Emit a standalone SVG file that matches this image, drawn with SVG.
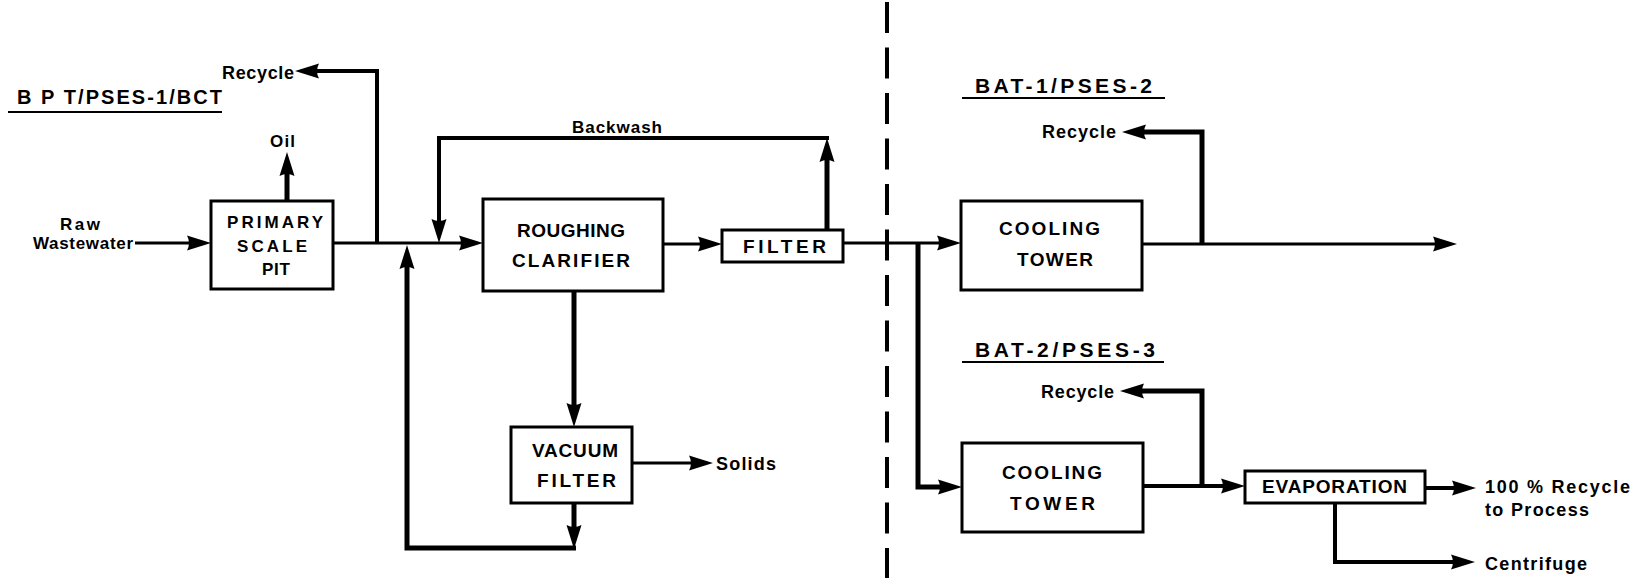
<svg xmlns="http://www.w3.org/2000/svg" width="1644" height="578" viewBox="0 0 1644 578">
<style>
  .box { fill: #fff; stroke: #000; stroke-width: 3; }
  .t { font-family: "Liberation Sans", Arial, sans-serif; font-weight: bold; fill: #000; }
  .bt { font-size: 19px; }
  .pt { font-size: 17px; }
  .lb { font-size: 18px; }
  .sl { font-size: 17px; }
  .hd { font-size: 21px; }
  .c { fill: none; stroke: #000; stroke-linejoin: miter; }
  .thin { stroke-width: 3; }
  .mid { stroke-width: 4; }
  .thick { stroke-width: 5; }
  .ul { stroke: #000; stroke-width: 2; }
</style>
<defs>
  <marker id="ah" markerUnits="userSpaceOnUse" markerWidth="28" markerHeight="18" viewBox="-2 -9 28 18" refX="12" refY="0" orient="auto">
    <path d="M0,-7.5 Q4,0 0,7.5 L24,0 Z" fill="#000"/>
  </marker>
</defs>
<rect width="1644" height="578" fill="#fff"/>

<g id="connectors">
  <path class="c thin" d="M135,243 H199" marker-end="url(#ah)"/>
  <path class="c thin" d="M333,243 H471" marker-end="url(#ah)"/>
  <path class="c mid" d="M377,243 V71 H307" marker-end="url(#ah)"/>
  <path class="c thick" d="M287,201 V164" marker-end="url(#ah)"/>
  <path class="c thick" d="M827,230 V150" marker-end="url(#ah)"/>
  <path class="c mid" d="M829,138 H439 V231" marker-end="url(#ah)"/>
  <path class="c thin" d="M663,244 H710" marker-end="url(#ah)"/>
  <path class="c thin" d="M843,243 H949" marker-end="url(#ah)"/>
  <path class="c thick" d="M918,243 V487 H950" marker-end="url(#ah)"/>
  <path class="c thin" d="M1142,244 H1445" marker-end="url(#ah)"/>
  <path class="c thick" d="M1202,244 V132 H1134" marker-end="url(#ah)"/>
  <path class="c mid" d="M1143,486 H1233" marker-end="url(#ah)"/>
  <path class="c thick" d="M1202,486 V391 H1132" marker-end="url(#ah)"/>
  <path class="c mid" d="M1425,488 H1464" marker-end="url(#ah)"/>
  <path class="c mid" d="M1335,503 V562 H1463" marker-end="url(#ah)"/>
  <path class="c thick" d="M574,291 V415" marker-end="url(#ah)"/>
  <path class="c thin" d="M632,463 H701" marker-end="url(#ah)"/>
  <path class="c thick" d="M574,503 V537" marker-end="url(#ah)"/>
  <path class="c thick" d="M576,548 H407 V257" marker-end="url(#ah)"/>
  <line x1="887" y1="2" x2="887" y2="578" stroke="#000" stroke-width="4" stroke-dasharray="31 14.5"/>
</g>

<g id="labels">
  <text class="t lb" x="222" y="79" textLength="72" lengthAdjust="spacing">Recycle</text>
  <text class="t hd" x="17" y="104" textLength="205" lengthAdjust="spacing" style="font-size:20px">B P T/PSES-1/BCT</text>
  <line class="ul" x1="8" y1="112" x2="222" y2="112"/>
  <text class="t sl" x="270" y="147" textLength="25" lengthAdjust="spacing">Oil</text>
  <text class="t sl" x="60" y="230" textLength="40" lengthAdjust="spacing">Raw</text>
  <text class="t sl" x="33" y="249" textLength="100" lengthAdjust="spacing">Wastewater</text>
  <text class="t sl" x="572" y="133" textLength="90" lengthAdjust="spacing">Backwash</text>
  <text class="t lb" x="716" y="470" textLength="60" lengthAdjust="spacing">Solids</text>
  <text class="t hd" x="975" y="93" textLength="177" lengthAdjust="spacing">BAT-1/PSES-2</text>
  <line class="ul" x1="962" y1="98" x2="1165" y2="98"/>
  <text class="t lb" x="1042" y="138" textLength="74" lengthAdjust="spacing">Recycle</text>
  <text class="t hd" x="975" y="357" textLength="180" lengthAdjust="spacing">BAT-2/PSES-3</text>
  <line class="ul" x1="962" y1="362" x2="1164" y2="362"/>
  <text class="t lb" x="1041" y="398" textLength="73" lengthAdjust="spacing">Recycle</text>
  <text class="t lb" x="1485" y="493" textLength="145" lengthAdjust="spacing">100 % Recycle</text>
  <text class="t lb" x="1485" y="516" textLength="104" lengthAdjust="spacing">to Process</text>
  <text class="t lb" x="1485" y="570" textLength="102" lengthAdjust="spacing">Centrifuge</text>
</g>

<g id="primary-scale-pit">
  <rect class="box" x="211" y="201" width="122" height="88"/>
  <text class="t pt" x="227" y="228" textLength="96" lengthAdjust="spacing">PRIMARY</text>
  <text class="t pt" x="237" y="252" textLength="70" lengthAdjust="spacing">SCALE</text>
  <text class="t pt" x="262" y="275" textLength="28" lengthAdjust="spacing">PIT</text>
</g>

<g id="roughing-clarifier">
  <rect class="box" x="483" y="199" width="180" height="92"/>
  <text class="t bt" x="517" y="237" textLength="108" lengthAdjust="spacing">ROUGHING</text>
  <text class="t bt" x="512" y="267" textLength="118" lengthAdjust="spacing">CLARIFIER</text>
</g>

<g id="filter">
  <rect class="box" x="722" y="230" width="121" height="32"/>
  <text class="t bt" x="743" y="253" textLength="83" lengthAdjust="spacing">FILTER</text>
</g>

<g id="vacuum-filter">
  <rect class="box" x="511" y="427" width="121" height="76"/>
  <text class="t bt" x="532" y="457" textLength="86" lengthAdjust="spacing">VACUUM</text>
  <text class="t bt" x="537" y="487" textLength="79" lengthAdjust="spacing">FILTER</text>
</g>

<g id="cooling-tower-1">
  <rect class="box" x="961" y="201" width="181" height="89"/>
  <text class="t bt" x="999" y="235" textLength="101" lengthAdjust="spacing">COOLING</text>
  <text class="t bt" x="1017" y="266" textLength="76" lengthAdjust="spacing">TOWER</text>
</g>

<g id="cooling-tower-2">
  <rect class="box" x="962" y="443" width="181" height="89"/>
  <text class="t bt" x="1002" y="479" textLength="100" lengthAdjust="spacing">COOLING</text>
  <text class="t bt" x="1010" y="510" textLength="85" lengthAdjust="spacing">TOWER</text>
</g>

<g id="evaporation">
  <rect class="box" x="1245" y="471" width="180" height="32"/>
  <text class="t bt" x="1262" y="493" textLength="145" lengthAdjust="spacing">EVAPORATION</text>
</g>
</svg>
